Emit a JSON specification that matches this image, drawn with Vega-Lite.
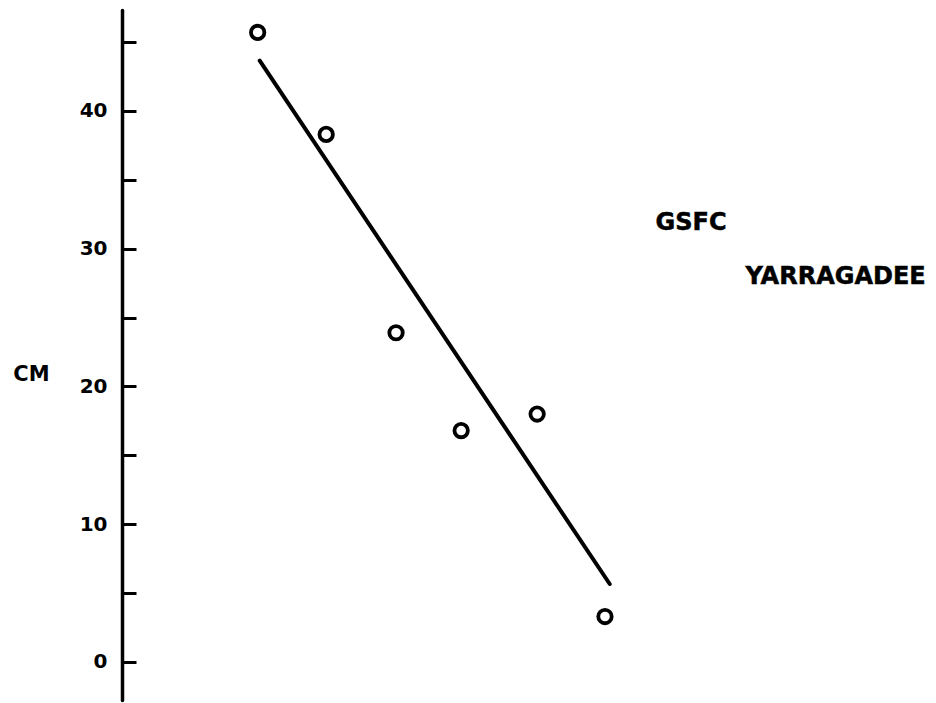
{
  "$schema": "https://vega.github.io/schema/vega-lite/v6.json",
  "autosize": "none",
  "padding": {"left": 122, "top": 10, "right": 0, "bottom": 3},
  "width": 814,
  "height": 690,
  "background": "white",
  "config": {"view": {"stroke": null}},
  "datasets": {
    "obs": [
      {"t": 2.0, "cm": 45.7},
      {"t": 3.01, "cm": 38.3},
      {"t": 4.04, "cm": 23.9},
      {"t": 5.0, "cm": 16.8},
      {"t": 6.12, "cm": 18.0},
      {"t": 7.12, "cm": 3.3}
    ],
    "fit": [
      {"t": 2.03, "cm": 43.65},
      {"t": 7.19, "cm": 5.66}
    ],
    "labels": [
      {"t": 8.39, "cm": 31.9, "text": "GSFC"},
      {"t": 10.52, "cm": 27.95, "text": "YARRAGADEE"}
    ]
  },
  "layer": [
    {
      "data": {"name": "fit"},
      "mark": {"type": "line", "color": "black", "strokeWidth": 4, "strokeCap": "round"},
      "encoding": {
        "x": {"field": "t", "type": "quantitative", "scale": {"domain": [0, 12]}, "axis": null},
        "y": {
          "field": "cm", "type": "quantitative",
          "scale": {"domain": [-2.76, 47.33], "nice": false, "zero": false},
          "axis": {
            "values": [0, 5, 10, 15, 20, 25, 30, 35, 40, 45],
            "labelExpr": "datum.value % 10 === 0 ? datum.label : ''",
            "grid": false,
            "domainColor": "black",
            "domainWidth": 3.5,
            "domainCap": "round",
            "tickColor": "black",
            "tickWidth": 3,
            "tickSize": -14,
            "labelPadding": 29,
            "labelFont": "DejaVu Sans",
            "labelFontWeight": "bold",
            "labelFontSize": 20,
            "labelColor": "black",
            "title": "CM",
            "titleAngle": 0,
            "titleFont": "DejaVu Sans",
            "titleFontWeight": "bold",
            "titleFontSize": 21,
            "titleColor": "black",
            "titleX": -91,
            "titleY": 364.5,
            "titleAlign": "center",
            "titleBaseline": "middle"
          }
        }
      }
    },
    {
      "data": {"name": "obs"},
      "mark": {"type": "point", "shape": "circle", "filled": false, "stroke": "black", "strokeWidth": 3.8, "size": 180, "opacity": 1},
      "encoding": {
        "x": {"field": "t", "type": "quantitative"},
        "y": {"field": "cm", "type": "quantitative"}
      }
    },
    {
      "data": {"name": "labels"},
      "mark": {"type": "text", "font": "DejaVu Sans", "fontWeight": "bold", "fontSize": 24, "color": "black", "stroke": "black", "strokeWidth": 0.5, "align": "center", "baseline": "middle"},
      "encoding": {
        "x": {"field": "t", "type": "quantitative"},
        "y": {"field": "cm", "type": "quantitative"},
        "text": {"field": "text"}
      }
    }
  ]
}
